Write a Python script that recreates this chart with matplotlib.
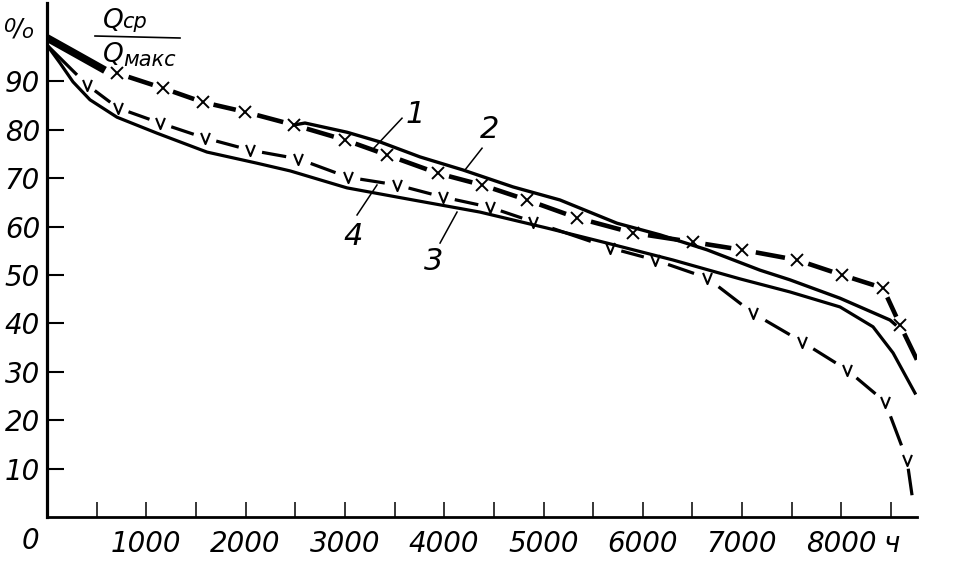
import numpy as np
import matplotlib.pyplot as plt
from matplotlib import font_manager
from matplotlib.path import Path

# values (hours, Qср/Qмакс in %)
# curve 1: thick dashed line with x marks
c1_head_x = [0, 262, 584]
c1_head_y = [99.0, 96.0, 92.3]
c1_x = [705, 1168, 1571, 1994, 2487, 3001, 3424, 3938, 4380, 4834,
        5337, 5901, 6505, 6999, 7553, 8006, 8419, 8590, 8760]
c1_y = [91.7, 88.6, 85.7, 83.7, 81.0, 77.9, 74.8, 71.0, 68.6, 65.5,
        61.8, 58.7, 56.8, 55.2, 53.1, 50.0, 47.3, 39.7, 32.5]

# curve 2: upper solid line (splits off curve 1 near 2600 h)
c2_x = [2487, 2598, 3021, 3353, 3756, 4189, 4693, 5166, 5740, 6173,
        6647, 7180, 7482, 7986, 8489, 8540]
c2_y = [81.0, 81.4, 79.5, 77.5, 74.4, 71.7, 68.2, 65.5, 60.7, 58.3,
        55.2, 51.0, 49.0, 45.2, 40.7, 39.8]

# curve 3: lower solid line
c3_x = [0, 131, 262, 433, 705, 1108, 1611, 2115, 2450, 3021, 3686,
        4360, 5035, 5639, 6304, 6979, 7482, 7986, 8318, 8520, 8741]
c3_y = [97.5, 93.8, 89.9, 86.2, 82.6, 79.3, 75.4, 73.1, 71.5, 68.0, 65.5,
        63.0, 59.7, 56.6, 53.1, 49.2, 46.5, 43.4, 39.3, 33.9, 25.6]

# curve 4: dashed line with v marks
c4_x = [0, 403, 715, 1138, 1591, 2044, 2530, 3031, 3525, 3988, 4461,
        4894, 5670, 6123, 6647, 7110, 7603, 8056, 8439, 8660, 8711]
c4_y = [97.5, 89.3, 84.5, 81.4, 78.3, 75.8, 74.0, 70.2, 68.6, 66.1, 64.0,
        61.0, 55.6, 53.1, 49.4, 42.1, 36.2, 30.4, 23.8, 11.8, 4.5]

x_ticks = list(range(500, 9000, 500))
x_labels = {1000: '1000', 2000: '2000', 3000: '3000', 4000: '4000',
            5000: '5000', 6000: '6000', 7000: '7000', 8000: '8000', 8500: 'ч'}
y_ticks = [10, 20, 30, 40, 50, 60, 70, 80, 90]

# curve numbers and their leader lines
lab_text = ['1', '2', '3', '4']
lab_pos = [(3706, 83.1), (4461, 80.0), (3897, 52.7), (3082, 57.9)]
lead_from = [(3575, 82.4), (4381, 76.2), (3958, 56.6), (3122, 62.4)]
lead_to = [(3273, 75.8), (4209, 71.7), (4129, 63.0), (3323, 68.6)]

names = {f.name for f in font_manager.fontManager.ttflist}
num_font = 'Liberation Sans Narrow' if 'Liberation Sans Narrow' in names else 'DejaVu Sans'
plt.rcParams['font.family'] = [num_font, 'DejaVu Sans']

W, H = 967, 566
fig = plt.figure(figsize=(W / 100, H / 100), dpi=100)
ax = fig.add_axes([47 / W, 49 / H, (917 - 47) / W, (517 - 3) / H])
ax.set_xlim(0, 8761)
ax.set_ylim(0, 106.2)


def dashes(xs, ys, marked, t0, t1, **kw):
    # one dash between each pair of neighbouring marks, gaps around the marks
    for i in range(len(xs) - 1):
        a = t0 if marked[i] else 0.0
        b = t1 if marked[i + 1] else 1.0
        dx, dy = xs[i + 1] - xs[i], ys[i + 1] - ys[i]
        ax.plot([xs[i] + a * dx, xs[i] + b * dx], [ys[i] + a * dy, ys[i] + b * dy],
                solid_capstyle='butt', **kw)


# curve 1
ax.plot(c1_head_x, c1_head_y, color='k', lw=5.5, solid_capstyle='butt')
c1_marked = [True] * (len(c1_x) - 1) + [False]
dashes(c1_x, c1_y, c1_marked, 0.25, 0.78, color='k', lw=3.3)
ax.plot(c1_x[:-1], c1_y[:-1], ls='none', marker='x', ms=8, mew=1.4, color='k')

# curve 2 and 3
ax.plot(c2_x, c2_y, color='k', lw=2.4)
ax.plot(c3_x, c3_y, color='k', lw=2.3)

# curve 4
c4_marked = [False] + [True] * (len(c4_x) - 2) + [False]
dashes(c4_x, c4_y, c4_marked, 0.25, 0.75, color='k', lw=2.3)
vmark = Path([(-0.8, 1), (0, -1), (0.8, 1)], [Path.MOVETO, Path.LINETO, Path.LINETO])
ax.plot(c4_x[1:-1], c4_y[1:-1], ls='none', marker=vmark, ms=8, mew=1.5,
        mfc='none', mec='k')

# curve numbers
for t, p, a, b in zip(lab_text, lab_pos, lead_from, lead_to):
    ax.text(p[0], p[1], t, fontsize=22, style='italic', ha='center', va='center')
    ax.plot([a[0], b[0]], [a[1], b[1]], color='k', lw=1.1)

# axes
for s in ['top', 'right']:
    ax.spines[s].set_visible(False)
ax.spines['left'].set_linewidth(2.3)
ax.spines['bottom'].set_linewidth(2.0)
ax.set_xticks(x_ticks)
ax.set_xticklabels([x_labels.get(t, '') for t in x_ticks], fontsize=20, style='italic')
ax.set_yticks(y_ticks)
ax.set_yticklabels([str(v) for v in y_ticks], fontsize=20, style='italic')
ax.tick_params(axis='x', direction='in', length=10.5, width=1.1, pad=9)
ax.tick_params(axis='y', direction='in', length=12, width=1.5, pad=5)

# corner texts
fig.text(30 / W, 1 - 541 / H, '0', fontsize=20, style='italic', ha='center', va='center')
fig.text(9 / W, 1 - 27 / H, '0', fontsize=14, style='italic', ha='center', va='center')
fig.text(18 / W, 1 - 28 / H, '/', fontsize=18, style='italic', ha='center', va='center')
fig.text(27 / W, 1 - 33 / H, 'o', fontsize=14, style='italic', ha='center', va='center')
fig.text(103 / W, 1 - 28 / H, 'Q', fontsize=19, style='italic', family='DejaVu Sans')
fig.text(122 / W, 1 - 28 / H, 'ср', fontsize=15, style='italic', family='DejaVu Sans')
fig.text(103 / W, 1 - 62 / H, 'Q', fontsize=19, style='italic', family='DejaVu Sans')
fig.text(123 / W, 1 - 66 / H, 'макс', fontsize=15, style='italic', family='DejaVu Sans')
fig.add_artist(plt.Line2D([95 / W, 180 / W], [1 - 36 / H, 1 - 38 / H], color='k', lw=1.2))

fig.savefig('out.png', dpi=100)
